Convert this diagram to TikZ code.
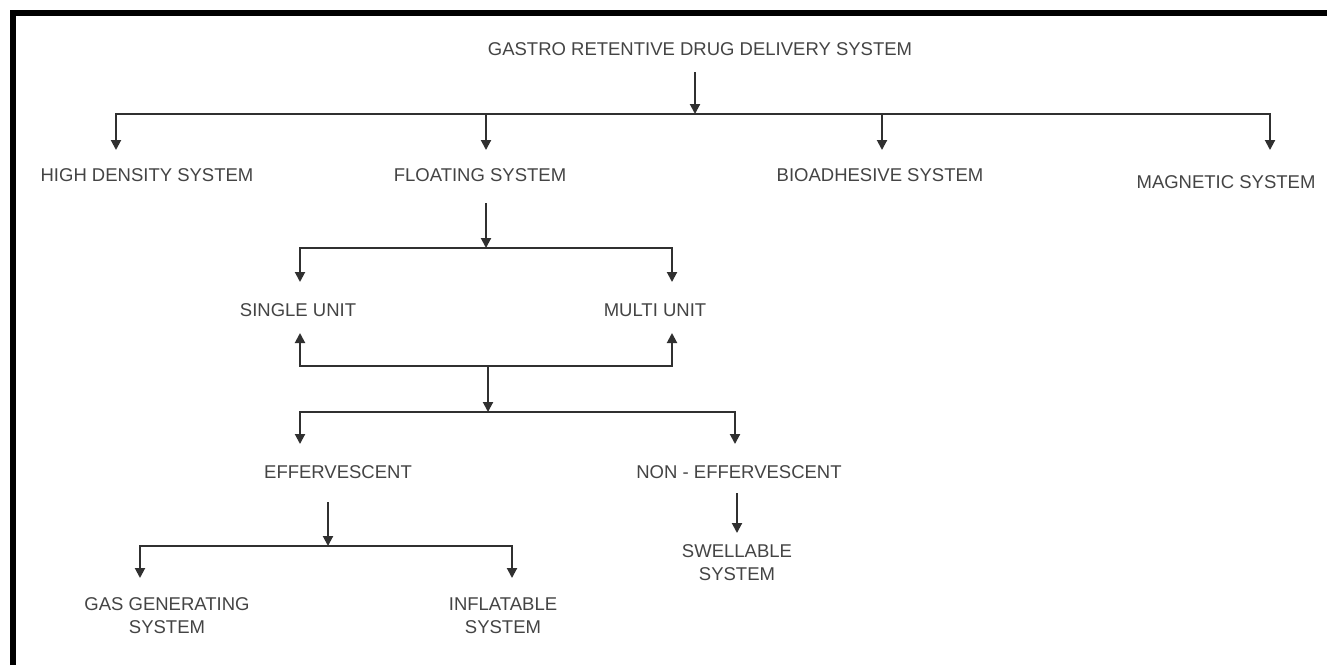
\documentclass[tikz,border=0pt]{standalone}
\usepackage{fontspec}
\setmainfont{Liberation Sans}
\usetikzlibrary{arrows.meta}
\definecolor{txt}{HTML}{444444}
\definecolor{ln}{HTML}{303030}
\tikzset{
  lbl/.style={font=\fontsize{18.5}{23}\selectfont, text=txt, inner sep=0pt, align=center},
  conn/.style={draw=ln, line width=2pt, -{Triangle[width=10pt,length=10pt]}},
  frame/.style={draw=black, line width=6pt}
}
\begin{document}
\begin{tikzpicture}[x=1pt,y=-1pt]
\useasboundingbox (0,0) rectangle (1327,665);
\fill[white] (0,0) rectangle (1327,665);
% frame
\coordinate (fA) at (13,665);
\coordinate (fB) at (13,13);
\coordinate (fC) at (1327,13);
\draw[frame] (fA) -- (fB) -- (fC);

% level 0
\node[lbl] (gr) at (700,49) {GASTRO RETENTIVE DRUG DELIVERY SYSTEM};
\coordinate (grS) at (695,72);
\coordinate (b1) at (695,114);
\draw[conn] (grS) -- (b1);

% level 1
\coordinate (hdT) at (116,150);
\coordinate (fsT) at (486,150);
\coordinate (biT) at (882,150);
\coordinate (maT) at (1270,150);
\draw[conn] (b1) -| (hdT);
\draw[conn] (b1) -| (fsT);
\draw[conn] (b1) -| (biT);
\draw[conn] (b1) -| (maT);
\node[lbl] (hd) at (147,175) {HIGH DENSITY SYSTEM};
\node[lbl] (fs) at (480,175) {FLOATING SYSTEM};
\node[lbl] (bi) at (880,175) {BIOADHESIVE SYSTEM};
\node[lbl] (ma) at (1226,182) {MAGNETIC SYSTEM};

% level 2
\coordinate (fsS) at (486,203);
\coordinate (b2) at (486,248);
\draw[conn] (fsS) -- (b2);
\coordinate (suT) at (300,282);
\coordinate (muT) at (672,282);
\draw[conn] (b2) -| (suT);
\draw[conn] (b2) -| (muT);
\node[lbl] (su) at (298,310) {SINGLE UNIT};
\node[lbl] (mu) at (655,310) {MULTI UNIT};
\coordinate (b3) at (488,366);
\coordinate (suB) at (300,333);
\coordinate (muB) at (672,333);
\draw[conn] (b3) -| (suB);
\draw[conn] (b3) -| (muB);
\coordinate (b4) at (488,412);
\draw[conn] (b3) -- (b4);

% level 3
\coordinate (efT) at (300,444);
\coordinate (neT) at (735,444);
\draw[conn] (b4) -| (efT);
\draw[conn] (b4) -| (neT);
\node[lbl] (ef) at (338,472) {EFFERVESCENT};
\node[lbl] (ne) at (739,472) {NON - EFFERVESCENT};

% level 4
\coordinate (efS) at (328,502);
\coordinate (b5) at (328,546);
\draw[conn] (efS) -- (b5);
\coordinate (ggT) at (140,578);
\coordinate (inT) at (512,578);
\draw[conn] (b5) -| (ggT);
\draw[conn] (b5) -| (inT);
\node[lbl] (gg) at (167,616) {GAS GENERATING\\SYSTEM};
\node[lbl] (in) at (503,616) {INFLATABLE\\SYSTEM};

\coordinate (neS) at (737,493);
\coordinate (swT) at (737,533);
\draw[conn] (neS) -- (swT);
\node[lbl] (sw) at (737,563) {SWELLABLE\\SYSTEM};
\end{tikzpicture}
\end{document}
